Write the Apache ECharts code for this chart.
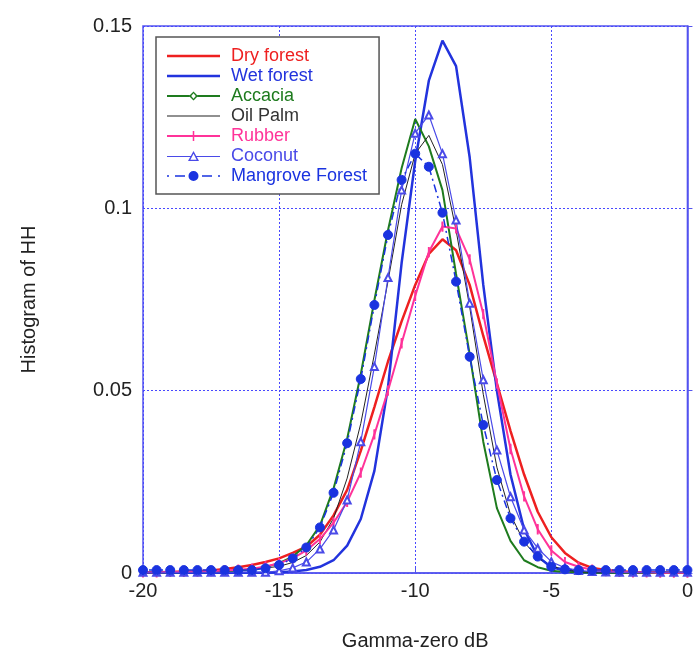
<!DOCTYPE html>
<html>
<head>
<meta charset="utf-8">
<script src="https://cdn.jsdelivr.net/npm/echarts@6/dist/echarts.min.js"></script>
<style>
html,body{margin:0;padding:0;background:#fff;}
#chart{width:696px;height:666px;}
</style>
</head>
<body>
<div id="chart"></div>
<script>
// Gamma-zero dB sample positions (-20 to 0, step 0.5)
const xs = [-20,-19.5,-19,-18.5,-18,-17.5,-17,-16.5,-16,-15.5,-15,-14.5,-14,-13.5,-13,-12.5,-12,-11.5,-11,-10.5,-10,-9.5,-9,-8.5,-8,-7.5,-7,-6.5,-6,-5.5,-5,-4.5,-4,-3.5,-3,-2.5,-2,-1.5,-1,-0.5,0];

const dryForest = [0.0002,0.0002,0.0003,0.0004,0.0005,0.0007,0.0011,0.0016,0.0022,0.003,0.004,0.0055,0.0072,0.0105,0.0158,0.0228,0.0335,0.0455,0.058,0.069,0.079,0.0875,0.0915,0.0885,0.079,0.065,0.052,0.039,0.027,0.0168,0.0098,0.0055,0.0028,0.0014,0.0008,0.0005,0.0003,0.0002,0.0002,0.0001,0.0001];
const wetForest = [0.0001,0.0001,0.0001,0.0001,0.0001,0.0001,0.0001,0.0001,0.0001,0.0001,0.0002,0.0004,0.0008,0.0017,0.0035,0.0075,0.0148,0.028,0.051,0.085,0.113,0.135,0.146,0.139,0.114,0.079,0.05,0.027,0.012,0.0045,0.0016,0.0006,0.0002,0.0001,0.0001,0.0001,0.0001,0.0001,0.0001,0.0001,0.0001];
const accacia = [0.0002,0.0002,0.0002,0.0003,0.0003,0.0004,0.0005,0.0007,0.001,0.0016,0.0027,0.0045,0.0076,0.013,0.0232,0.0368,0.0545,0.0748,0.094,0.111,0.1245,0.117,0.105,0.082,0.06,0.036,0.0178,0.0088,0.0035,0.0016,0.0006,0.0003,0.0002,0.0001,0.0001,0.0001,0.0001,0.0001,0.0001,0.0001,0.0001];
const oilPalm = [0.0002,0.0002,0.0003,0.0003,0.0004,0.0005,0.0006,0.0008,0.0011,0.0014,0.0018,0.0029,0.0048,0.0085,0.015,0.026,0.041,0.06,0.08,0.101,0.115,0.12,0.112,0.094,0.073,0.049,0.029,0.016,0.0085,0.0042,0.0019,0.0009,0.0004,0.0002,0.0001,0.0001,0.0001,0.0001,0.0001,0.0001,0.0001];
const rubber = [0.0002,0.0002,0.0003,0.0003,0.0004,0.0005,0.0007,0.0009,0.0012,0.0018,0.0027,0.004,0.0062,0.0093,0.0138,0.0195,0.0275,0.038,0.05,0.063,0.076,0.088,0.095,0.0945,0.086,0.071,0.052,0.034,0.021,0.012,0.0062,0.003,0.0017,0.0009,0.0005,0.0003,0.0002,0.0002,0.0001,0.0001,0.0001];
const coconut = [0.0002,0.0002,0.0002,0.0002,0.0002,0.0002,0.0002,0.0002,0.0002,0.0002,0.0006,0.0014,0.003,0.0066,0.0118,0.02,0.036,0.0566,0.081,0.105,0.1206,0.1256,0.115,0.0968,0.074,0.053,0.0337,0.0209,0.0118,0.0068,0.0031,0.0014,0.0007,0.0004,0.0003,0.0002,0.0002,0.0002,0.0002,0.0002,0.0002];
const mangrove = [0.0008,0.0008,0.0008,0.0008,0.0008,0.0008,0.0008,0.0008,0.0008,0.0013,0.0022,0.004,0.007,0.0125,0.022,0.0356,0.0532,0.0735,0.0927,0.1078,0.115,0.1114,0.0988,0.0799,0.0593,0.0406,0.0255,0.015,0.0086,0.0045,0.0017,0.001,0.0008,0.0008,0.0008,0.0008,0.0008,0.0008,0.0008,0.0008,0.0008];

const seriesNames = ['Dry forest','Wet forest','Accacia','Oil Palm','Rubber','Coconut','Mangrove Forest'];
const seriesValues = [dryForest, wetForest, accacia, oilPalm, rubber, coconut, mangrove];
const colors = ['#ee2020','#2233dd','#1e7b1e','#222222','#ff3399','#4a4ae8','#1a33e0'];

const FONT = '"Liberation Sans", Arial, Helvetica, sans-serif';

// legend icons drawn in a 53 x 14 box
const legendIcons = [
  'path://M0,5.75L53,5.75L53,8.25L0,8.25Z',
  'path://M0,5.75L53,5.75L53,8.25L0,8.25Z',
  'path://M0,6L22.5,6L22.5,8L0,8Z M30.5,6L53,6L53,8L30.5,8Z M26.5,2.5L31,7L26.5,11.5L22,7Z M26.5,4.3L24.2,7L26.5,9.7L28.8,7Z',
  'path://M0,6.4L53,6.4L53,7.6L0,7.6Z',
  'path://M0,6L53,6L53,8L0,8Z M25.75,2L27.25,2L27.25,12L25.75,12Z',
  'path://M0,6.4L24,6.4L24,7.6L0,7.6Z M29,6.4L53,6.4L53,7.6L29,7.6Z M26.5,1.5L32,11.5L21,11.5Z M26.5,4.2L23.4,10.2L29.6,10.2Z',
  'path://M0,6.25L2,6.25L2,7.75L0,7.75Z M8,6.25L18,6.25L18,7.75L8,7.75Z M21.5,7A5,5 0 1,0 31.5,7A5,5 0 1,0 21.5,7Z M35,6.25L45,6.25L45,7.75L35,7.75Z M51,6.25L53,6.25L53,7.75L51,7.75Z'
];

const styles = [
  {lineWidth: 2.5, symbol: 'none'},
  {lineWidth: 2.5, symbol: 'none'},
  {lineWidth: 2, symbol: 'none'},
  {lineWidth: 1, symbol: 'none'},
  {lineWidth: 2, symbol: 'rect', symbolSize: [1.5, 8]},
  {lineWidth: 1.2, symbol: 'emptyTriangle', symbolSize: 7},
  {lineWidth: 1.5, symbol: 'circle', symbolSize: 9, lineType: [2, 4, 8, 4]}
];

const series = seriesNames.map((name, k) => {
  const st = styles[k];
  return {
    name: name,
    type: 'line',
    data: xs.map((x, i) => [x, seriesValues[k][i]]),
    symbol: st.symbol,
    symbolSize: st.symbolSize || 4,
    showSymbol: st.symbol !== 'none',
    color: colors[k],
    lineStyle: {color: colors[k], width: st.lineWidth, type: st.lineType || 'solid'},
    itemStyle: {color: colors[k], borderColor: colors[k], borderWidth: 1},
    emphasis: {disabled: true},
    animation: false
  };
});

const chart = echarts.init(document.getElementById('chart'), null, {renderer: 'canvas'});
chart.setOption({
  backgroundColor: '#ffffff',
  animation: false,
  grid: {
    left: 143, right: 5, top: 26, bottom: 93,
    show: true, borderColor: '#5555ee', borderWidth: 1.5, backgroundColor: 'transparent'
  },
  legend: {
    orient: 'vertical',
    left: 156, top: 37,
    padding: [10, 12, 9, 11],
    itemWidth: 53, itemHeight: 14, itemGap: 2,
    symbolKeepAspect: true,
    backgroundColor: '#ffffff',
    borderColor: '#555555', borderWidth: 1.5,
    textStyle: {fontSize: 18, fontFamily: FONT, lineHeight: 16, padding: [0, 0, 0, 6]},
    data: seriesNames.map((n, k) => ({
      name: n,
      icon: legendIcons[k],
      itemStyle: {color: colors[k], borderWidth: 0},
      textStyle: {color: k === 3 ? '#333333' : colors[k]}
    }))
  },
  xAxis: {
    type: 'value', min: -20, max: 0, interval: 5,
    name: 'Gamma-zero dB', nameLocation: 'middle', nameGap: 58,
    nameTextStyle: {fontSize: 20, fontFamily: FONT, color: '#222'},
    axisLine: {show: true, lineStyle: {color: '#5555ee', width: 1.5}},
    axisTick: {show: true, inside: true, length: 5, lineStyle: {color: '#5555ee'}},
    axisLabel: {fontSize: 20, fontFamily: FONT, color: '#222', margin: 8},
    splitLine: {show: true, lineStyle: {color: '#4848ff', type: [2, 2], width: 1}}
  },
  yAxis: {
    type: 'value', min: 0, max: 0.15, interval: 0.05,
    name: 'Histogram of HH', nameLocation: 'middle', nameGap: 104,
    nameTextStyle: {fontSize: 20, fontFamily: FONT, color: '#222'},
    axisLine: {show: true, lineStyle: {color: '#5555ee', width: 1.5}},
    axisTick: {show: true, inside: true, length: 5, lineStyle: {color: '#5555ee'}},
    axisLabel: {fontSize: 20, fontFamily: FONT, color: '#222', margin: 11},
    splitLine: {show: true, lineStyle: {color: '#4848ff', type: [2, 2], width: 1}}
  },
  series: series
});
</script>
</body>
</html>
